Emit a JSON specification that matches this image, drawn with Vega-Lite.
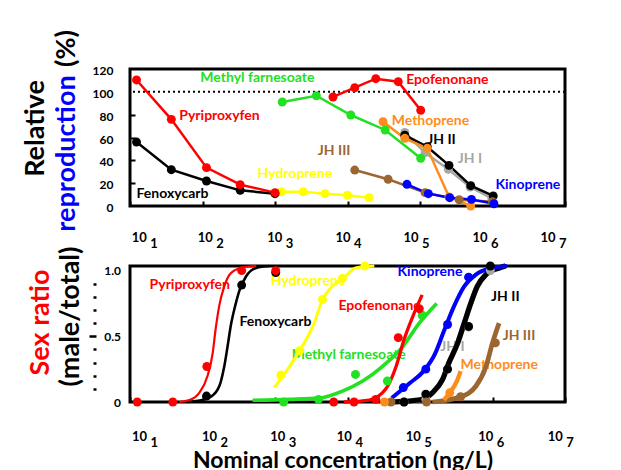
{
  "$schema": "https://vega.github.io/schema/vega-lite/v6.json",
  "autosize": {"type": "pad"},
  "padding": {"left": 20, "top": 28, "right": 5, "bottom": 5},
  "background": "white",
  "config": {"view": {"stroke": "black", "strokeWidth": 3}, "font": "Lato", "axis": {"grid": false}},
  "spacing": 60,
  "bounds": "flush",
  "datasets": {
    "ref": [{"ref": 100}],
    "top_pts": [
      {"series": "JH I", "logc": 4.79, "v": 64.5}, {"series": "JH I", "logc": 5.07, "v": 46.7}, {"series": "JH I", "logc": 5.39, "v": 32.1}, {"series": "JH I", "logc": 5.69, "v": 16.6}, {"series": "JH I", "logc": 5.99, "v": 6.7},
      {"series": "JH II", "logc": 4.79, "v": 62}, {"series": "JH II", "logc": 5.10, "v": 51.9}, {"series": "JH II", "logc": 5.40, "v": 35.6}, {"series": "JH II", "logc": 5.70, "v": 17.8}, {"series": "JH II", "logc": 6.01, "v": 8.8},
      {"series": "JH III", "logc": 4.10, "v": 31.5}, {"series": "JH III", "logc": 4.56, "v": 23.4}, {"series": "JH III", "logc": 5.07, "v": 11.7}, {"series": "JH III", "logc": 5.54, "v": 5.5}, {"series": "JH III", "logc": 6.0, "v": 3.8},
      {"series": "Methoprene", "logc": 4.49, "v": 73.8}, {"series": "Methoprene", "logc": 4.79, "v": 59.3}, {"series": "Methoprene", "logc": 5.10, "v": 50.5}, {"series": "Methoprene", "logc": 5.40, "v": 8}, {"series": "Methoprene", "logc": 5.70, "v": 0},
      {"series": "Kinoprene", "logc": 4.82, "v": 19}, {"series": "Kinoprene", "logc": 5.115, "v": 10.8}, {"series": "Kinoprene", "logc": 5.41, "v": 7.3}, {"series": "Kinoprene", "logc": 5.71, "v": 5.8}, {"series": "Kinoprene", "logc": 6.02, "v": 2},
      {"series": "Methyl farnesoate", "logc": 3.10, "v": 91.1}, {"series": "Methyl farnesoate", "logc": 3.57, "v": 96.6}, {"series": "Methyl farnesoate", "logc": 4.045, "v": 79.7}, {"series": "Methyl farnesoate", "logc": 4.52, "v": 66.6}, {"series": "Methyl farnesoate", "logc": 5.01, "v": 41.8},
      {"series": "Epofenonane", "logc": 3.80, "v": 95.5}, {"series": "Epofenonane", "logc": 4.10, "v": 103.6}, {"series": "Epofenonane", "logc": 4.39, "v": 111.5}, {"series": "Epofenonane", "logc": 4.70, "v": 108.9}, {"series": "Epofenonane", "logc": 5.01, "v": 83.8},
      {"series": "Hydroprene", "logc": 3.09, "v": 12.5}, {"series": "Hydroprene", "logc": 3.39, "v": 12.5}, {"series": "Hydroprene", "logc": 3.69, "v": 10.8}, {"series": "Hydroprene", "logc": 4.0, "v": 9.4}, {"series": "Hydroprene", "logc": 4.30, "v": 7.3},
      {"series": "Fenoxycarb", "logc": 1.09, "v": 56}, {"series": "Fenoxycarb", "logc": 1.57, "v": 31.8}, {"series": "Fenoxycarb", "logc": 2.055, "v": 21.9}, {"series": "Fenoxycarb", "logc": 2.52, "v": 13.7}, {"series": "Fenoxycarb", "logc": 3.0, "v": 10.8},
      {"series": "Pyriproxyfen", "logc": 1.09, "v": 110.4}, {"series": "Pyriproxyfen", "logc": 1.57, "v": 75.9}, {"series": "Pyriproxyfen", "logc": 2.055, "v": 33.6}, {"series": "Pyriproxyfen", "logc": 2.52, "v": 18.7}, {"series": "Pyriproxyfen", "logc": 3.0, "v": 11.7}
    ],
    "top_lab": [
      {"series": "Methyl farnesoate", "label": "Methyl farnesoate", "logc": 1.97, "v": 112},
      {"series": "Pyriproxyfen", "label": "Pyriproxyfen", "logc": 1.68, "v": 78.8},
      {"series": "Fenoxycarb", "label": "Fenoxycarb", "logc": 1.09, "v": 10.5},
      {"series": "Hydroprene", "label": "Hydroprene", "logc": 2.76, "v": 28},
      {"series": "JH III", "label": "JH III", "logc": 3.59, "v": 48.2},
      {"series": "Epofenonane", "label": "Epofenonane", "logc": 4.81, "v": 110.4},
      {"series": "Methoprene", "label": "Methoprene", "logc": 4.61, "v": 74.5},
      {"series": "JH II", "label": "JH II", "logc": 5.10, "v": 57.8},
      {"series": "JH I", "label": "JH I", "logc": 5.52, "v": 41.2},
      {"series": "Kinoprene", "label": "Kinoprene", "logc": 6.04, "v": 18.4}
    ],
    "bot_pts": [
      {"series": "JH I", "logc": 4.78, "v": 0}, {"series": "JH I", "logc": 5.08, "v": 0.02}, {"series": "JH I", "logc": 5.38, "v": 0.25}, {"series": "JH I", "logc": 5.67, "v": 0.57}, {"series": "JH I", "logc": 5.97, "v": 1.0},
      {"series": "JH II", "logc": 4.78, "v": 0}, {"series": "JH II", "logc": 5.08, "v": 0.06}, {"series": "JH II", "logc": 5.38, "v": 0.25}, {"series": "JH II", "logc": 5.67, "v": 0.575}, {"series": "JH II", "logc": 5.97, "v": 1.035},
      {"series": "JH III", "logc": 4.60, "v": 0}, {"series": "JH III", "logc": 5.09, "v": 0}, {"series": "JH III", "logc": 5.56, "v": 0.04}, {"series": "JH III", "logc": 6.04, "v": 0.45},
      {"series": "Methoprene", "logc": 4.51, "v": 0}, {"series": "Methoprene", "logc": 5.41, "v": 0.07},
      {"series": "Kinoprene", "logc": 4.77, "v": 0.11}, {"series": "Kinoprene", "logc": 5.08, "v": 0.25}, {"series": "Kinoprene", "logc": 5.38, "v": 0.59}, {"series": "Kinoprene", "logc": 5.67, "v": 0.95},
      {"series": "Methyl farnesoate", "logc": 3.12, "v": 0}, {"series": "Methyl farnesoate", "logc": 3.60, "v": 0.02}, {"series": "Methyl farnesoate", "logc": 4.11, "v": 0.21}, {"series": "Methyl farnesoate", "logc": 4.55, "v": 0.16}, {"series": "Methyl farnesoate", "logc": 5.03, "v": 0.66},
      {"series": "Epofenonane", "logc": 3.81, "v": 0}, {"series": "Epofenonane", "logc": 4.09, "v": 0}, {"series": "Epofenonane", "logc": 4.39, "v": 0.02}, {"series": "Epofenonane", "logc": 4.70, "v": 0.49}, {"series": "Epofenonane", "logc": 4.99, "v": 0.71},
      {"series": "Hydroprene", "logc": 3.08, "v": 0.205}, {"series": "Hydroprene", "logc": 3.34, "v": 0.39}, {"series": "Hydroprene", "logc": 3.655, "v": 0.78}, {"series": "Hydroprene", "logc": 3.93, "v": 0.94}, {"series": "Hydroprene", "logc": 4.24, "v": 1.035},
      {"series": "Fenoxycarb", "logc": 2.055, "v": 0.045}, {"series": "Fenoxycarb", "logc": 2.54, "v": 0.89}, {"series": "Fenoxycarb", "logc": 3.01, "v": 0.985},
      {"series": "Pyriproxyfen", "logc": 1.10, "v": 0}, {"series": "Pyriproxyfen", "logc": 1.59, "v": 0}, {"series": "Pyriproxyfen", "logc": 2.06, "v": 0.27}, {"series": "Pyriproxyfen", "logc": 2.54, "v": 1.0}, {"series": "Pyriproxyfen", "logc": 3.01, "v": 1.0}
    ],
    "bot_curve": [
      {"series": "JH I", "logc": 4.62, "v": 0}, {"series": "JH I", "logc": 4.99, "v": 0.015}, {"series": "JH I", "logc": 5.17, "v": 0.07}, {"series": "JH I", "logc": 5.31, "v": 0.17}, {"series": "JH I", "logc": 5.40, "v": 0.30}, {"series": "JH I", "logc": 5.52, "v": 0.45}, {"series": "JH I", "logc": 5.61, "v": 0.60}, {"series": "JH I", "logc": 5.70, "v": 0.75}, {"series": "JH I", "logc": 5.79, "v": 0.88}, {"series": "JH I", "logc": 5.91, "v": 0.97}, {"series": "JH I", "logc": 6.09, "v": 1.02}, {"series": "JH I", "logc": 6.18, "v": 1.035},
      {"series": "JH II", "logc": 4.62, "v": 0}, {"series": "JH II", "logc": 4.99, "v": 0.015}, {"series": "JH II", "logc": 5.17, "v": 0.07}, {"series": "JH II", "logc": 5.31, "v": 0.17}, {"series": "JH II", "logc": 5.40, "v": 0.30}, {"series": "JH II", "logc": 5.52, "v": 0.45}, {"series": "JH II", "logc": 5.61, "v": 0.60}, {"series": "JH II", "logc": 5.70, "v": 0.75}, {"series": "JH II", "logc": 5.79, "v": 0.88}, {"series": "JH II", "logc": 5.91, "v": 0.97}, {"series": "JH II", "logc": 6.09, "v": 1.02}, {"series": "JH II", "logc": 6.18, "v": 1.035},
      {"series": "JH III", "logc": 5.17, "v": 0}, {"series": "JH III", "logc": 5.56, "v": 0.04}, {"series": "JH III", "logc": 5.77, "v": 0.12}, {"series": "JH III", "logc": 5.91, "v": 0.27}, {"series": "JH III", "logc": 6.0, "v": 0.45}, {"series": "JH III", "logc": 6.09, "v": 0.60},
      {"series": "Methoprene", "logc": 5.33, "v": 0.015}, {"series": "Methoprene", "logc": 5.41, "v": 0.07}, {"series": "Methoprene", "logc": 5.51, "v": 0.16}, {"series": "Methoprene", "logc": 5.56, "v": 0.235},
      {"series": "Kinoprene", "logc": 4.61, "v": 0.03}, {"series": "Kinoprene", "logc": 4.865, "v": 0.146}, {"series": "Kinoprene", "logc": 5.05, "v": 0.235}, {"series": "Kinoprene", "logc": 5.21, "v": 0.37}, {"series": "Kinoprene", "logc": 5.33, "v": 0.54}, {"series": "Kinoprene", "logc": 5.47, "v": 0.73}, {"series": "Kinoprene", "logc": 5.61, "v": 0.88}, {"series": "Kinoprene", "logc": 5.77, "v": 0.97}, {"series": "Kinoprene", "logc": 6.0, "v": 1.02}, {"series": "Kinoprene", "logc": 6.2, "v": 1.035},
      {"series": "Methyl farnesoate", "logc": 2.69, "v": 0.013}, {"series": "Methyl farnesoate", "logc": 3.2, "v": 0.02}, {"series": "Methyl farnesoate", "logc": 3.61, "v": 0.03}, {"series": "Methyl farnesoate", "logc": 3.93, "v": 0.083}, {"series": "Methyl farnesoate", "logc": 4.21, "v": 0.16}, {"series": "Methyl farnesoate", "logc": 4.48, "v": 0.27}, {"series": "Methyl farnesoate", "logc": 4.76, "v": 0.42}, {"series": "Methyl farnesoate", "logc": 4.99, "v": 0.60}, {"series": "Methyl farnesoate", "logc": 5.23, "v": 0.75},
      {"series": "Epofenonane", "logc": 3.95, "v": 0}, {"series": "Epofenonane", "logc": 4.30, "v": 0.015}, {"series": "Epofenonane", "logc": 4.53, "v": 0.10}, {"series": "Epofenonane", "logc": 4.67, "v": 0.27}, {"series": "Epofenonane", "logc": 4.78, "v": 0.475}, {"series": "Epofenonane", "logc": 4.90, "v": 0.65}, {"series": "Epofenonane", "logc": 5.03, "v": 0.815},
      {"series": "Hydroprene", "logc": 2.99, "v": 0.11}, {"series": "Hydroprene", "logc": 3.20, "v": 0.27}, {"series": "Hydroprene", "logc": 3.34, "v": 0.39}, {"series": "Hydroprene", "logc": 3.54, "v": 0.60}, {"series": "Hydroprene", "logc": 3.655, "v": 0.78}, {"series": "Hydroprene", "logc": 3.79, "v": 0.88}, {"series": "Hydroprene", "logc": 3.97, "v": 0.955}, {"series": "Hydroprene", "logc": 4.11, "v": 1.02}, {"series": "Hydroprene", "logc": 4.37, "v": 1.035},
      {"series": "Fenoxycarb", "logc": 1.79, "v": 0}, {"series": "Fenoxycarb", "logc": 2.0, "v": 0.015}, {"series": "Fenoxycarb", "logc": 2.16, "v": 0.06}, {"series": "Fenoxycarb", "logc": 2.25, "v": 0.15}, {"series": "Fenoxycarb", "logc": 2.30, "v": 0.27}, {"series": "Fenoxycarb", "logc": 2.345, "v": 0.42}, {"series": "Fenoxycarb", "logc": 2.39, "v": 0.58}, {"series": "Fenoxycarb", "logc": 2.45, "v": 0.73}, {"series": "Fenoxycarb", "logc": 2.51, "v": 0.85}, {"series": "Fenoxycarb", "logc": 2.60, "v": 0.955}, {"series": "Fenoxycarb", "logc": 2.74, "v": 1.02}, {"series": "Fenoxycarb", "logc": 2.92, "v": 1.035},
      {"series": "Pyriproxyfen", "logc": 1.68, "v": 0}, {"series": "Pyriproxyfen", "logc": 1.82, "v": 0.015}, {"series": "Pyriproxyfen", "logc": 1.955, "v": 0.07}, {"series": "Pyriproxyfen", "logc": 2.07, "v": 0.2}, {"series": "Pyriproxyfen", "logc": 2.14, "v": 0.37}, {"series": "Pyriproxyfen", "logc": 2.18, "v": 0.55}, {"series": "Pyriproxyfen", "logc": 2.23, "v": 0.73}, {"series": "Pyriproxyfen", "logc": 2.30, "v": 0.88}, {"series": "Pyriproxyfen", "logc": 2.39, "v": 0.98}, {"series": "Pyriproxyfen", "logc": 2.53, "v": 1.02}, {"series": "Pyriproxyfen", "logc": 2.74, "v": 1.035}
    ],
    "bot_lab": [
      {"series": "Pyriproxyfen", "label": "Pyriproxyfen", "logc": 1.27, "v": 0.89},
      {"series": "Fenoxycarb", "label": "Fenoxycarb", "logc": 2.51, "v": 0.61},
      {"series": "Hydroprene", "label": "Hydroprene", "logc": 2.94, "v": 0.92},
      {"series": "Methyl farnesoate", "label": "Methyl farnesoate", "logc": 3.23, "v": 0.354},
      {"series": "Epofenonane", "label": "Epofenonane", "logc": 3.875, "v": 0.727},
      {"series": "Kinoprene", "label": "Kinoprene", "logc": 4.69, "v": 0.99},
      {"series": "JH II", "label": "JH II", "logc": 5.98, "v": 0.80},
      {"series": "JH I", "label": "JH I", "logc": 5.28, "v": 0.42},
      {"series": "Methoprene", "label": "Methoprene", "logc": 5.56, "v": 0.28},
      {"series": "JH III", "label": "JH III", "logc": 6.14, "v": 0.505}
    ]
  },
  "vconcat": [
    {
      "width": 435,
      "height": 137,
      "resolve": {"axis": {"x": "independent", "y": "independent"}},
      "layer": [
        {
          "data": {"name": "top_lab"},
          "mark": {"type": "text", "font": "Lato", "fontWeight": "bold", "fontSize": 14, "align": "left", "baseline": "middle"},
          "encoding": {
            "x": {"field": "logc", "type": "quantitative", "scale": {"domain": [1, 7], "nice": false, "zero": false},
              "axis": {"orient": "bottom", "values": [1.12, 2.03, 2.99, 3.93, 4.87, 5.82, 6.76], "labelExpr": "'' + round(datum.value)", "labelAlign": "left", "labelBaseline": "top", "labelOffset": 11, "labelPadding": 31, "labelFont": "Lato", "labelFontSize": 13, "labelFontWeight": "bold", "labelColor": "black", "labelFlush": false, "labelOverlap": false, "labelBound": false, "ticks": false, "domain": false, "title": null, "grid": false}},
            "y": {"field": "v", "type": "quantitative", "scale": {"domain": [0, 120], "nice": false},
              "axis": {"orient": "left", "title": "(%)", "titleColor": "black", "titleFont": "Lato", "titleFontSize": 27, "titleFontWeight": "bold", "titleAngle": -90, "titleAlign": "center", "titleBaseline": "middle", "titleX": -64, "titleY": -21, "labels": false, "ticks": false, "domain": false, "grid": false}},
            "color": {"field": "series", "type": "nominal", "legend": null,
              "scale": {"domain": ["JH I", "JH II", "JH III", "Methoprene", "Kinoprene", "Methyl farnesoate", "Epofenonane", "Hydroprene", "Fenoxycarb", "Pyriproxyfen"],
                "range": ["#a6a6a6", "#000000", "#9c6631", "#ff8c1a", "#0000ff", "#22e022", "#ff0000", "#ffff00", "#000000", "#ff0000"]}},
            "text": {"field": "label", "type": "nominal"}
          }
        },
        {
          "data": {"name": "ref"},
          "mark": {"type": "rule", "strokeDash": [2, 3], "strokeWidth": 2, "color": "black"},
          "encoding": {
            "y": {"field": "ref", "type": "quantitative", "scale": {"domain": [0, 120], "nice": false},
              "axis": {"orient": "left", "title": "reproduction", "titleColor": "#0000ff", "titleFont": "Lato", "titleFontSize": 27, "titleFontWeight": "bold", "titleAngle": -90, "titleAlign": "center", "titleBaseline": "middle", "titleX": -64, "titleY": 84, "labels": false, "ticks": true, "tickSize": -5, "tickWidth": 2, "tickColor": "black", "values": [20, 40, 60, 80], "domain": false, "grid": false}}
          }
        },
        {
          "data": {"name": "top_pts"},
          "mark": {"type": "line", "strokeWidth": 2.5},
          "encoding": {
            "x": {"field": "logc", "type": "quantitative", "scale": {"domain": [1, 7], "nice": false, "zero": false},
              "axis": {"orient": "bottom", "values": [1, 2, 3, 4, 5, 6, 7], "labels": false, "ticks": true, "tickSize": -5, "tickWidth": 2, "tickColor": "black", "domain": false, "title": null, "grid": false}},
            "y": {"field": "v", "type": "quantitative", "scale": {"domain": [0, 120], "nice": false},
              "axis": {"orient": "left", "values": [0, 20, 40, 60, 80, 100, 120], "title": "Relative", "titleColor": "black", "titleFont": "Lato", "titleFontSize": 27, "titleFontWeight": "bold", "titleAngle": -90, "titleAlign": "center", "titleBaseline": "middle", "titleX": -94.5, "titleY": 59, "labelFont": "Lato", "labelFontSize": 12, "labelFontWeight": "bold", "labelColor": "black", "labelPadding": 17, "labelOffset": 1.5, "ticks": false, "domain": false, "grid": false}},
            "color": {"field": "series", "type": "nominal", "legend": null,
              "scale": {"domain": ["JH I", "JH II", "JH III", "Methoprene", "Kinoprene", "Methyl farnesoate", "Epofenonane", "Hydroprene", "Fenoxycarb", "Pyriproxyfen"],
                "range": ["#a6a6a6", "#000000", "#9c6631", "#ff8c1a", "#0000ff", "#22e022", "#ff0000", "#ffff00", "#000000", "#ff0000"]}}
          }
        },
        {
          "data": {"name": "top_pts"},
          "mark": {"type": "point", "filled": true, "opacity": 1},
          "encoding": {
            "x": {"field": "logc", "type": "quantitative", "scale": {"domain": [1, 7], "nice": false, "zero": false},
              "axis": {"orient": "bottom", "values": [1.12, 2.03, 2.99, 3.93, 4.87, 5.82, 6.76], "labelExpr": "'10'", "labelAlign": "center", "labelBaseline": "top", "labelPadding": 25, "labelFont": "Lato", "labelFontSize": 13, "labelFontWeight": "bold", "labelColor": "black", "labelFlush": false, "labelOverlap": false, "labelBound": false, "ticks": false, "domain": false, "title": null, "grid": false}},
            "y": {"field": "v", "type": "quantitative", "scale": {"domain": [0, 120], "nice": false}, "axis": null},
            "color": {"field": "series", "type": "nominal", "legend": null,
              "scale": {"domain": ["JH I", "JH II", "JH III", "Methoprene", "Kinoprene", "Methyl farnesoate", "Epofenonane", "Hydroprene", "Fenoxycarb", "Pyriproxyfen"],
                "range": ["#a6a6a6", "#000000", "#9c6631", "#ff8c1a", "#0000ff", "#22e022", "#ff0000", "#ffff00", "#000000", "#ff0000"]}},
            "size": {"field": "series", "type": "nominal", "legend": null,
              "scale": {"domain": ["JH I", "JH II", "JH III", "Methoprene", "Kinoprene", "Methyl farnesoate", "Epofenonane", "Hydroprene", "Fenoxycarb", "Pyriproxyfen"],
                "range": [80, 80, 55, 65, 95, 60, 95, 80, 55, 95]}}
          }
        }
      ]
    },
    {
      "width": 435,
      "height": 136,
      "resolve": {"axis": {"x": "independent", "y": "independent"}},
      "layer": [
        {
          "data": {"name": "bot_lab"},
          "mark": {"type": "text", "font": "Lato", "fontWeight": "bold", "fontSize": 14, "align": "left", "baseline": "middle"},
          "encoding": {
            "x": {"field": "logc", "type": "quantitative", "scale": {"domain": [1, 7], "nice": false, "zero": false},
              "axis": {"orient": "bottom", "values": [1.124, 2.09, 3.03, 3.95, 4.90, 5.90, 6.86], "labelExpr": "'' + round(datum.value)", "labelAlign": "left", "labelBaseline": "top", "labelOffset": 11, "labelPadding": 34, "labelFont": "Lato", "labelFontSize": 13, "labelFontWeight": "bold", "labelColor": "black", "labelFlush": false, "labelOverlap": false, "labelBound": false, "ticks": false, "domain": false, "title": null, "grid": false}},
            "y": {"field": "v", "type": "quantitative", "scale": {"domain": [0, 1.035], "nice": false},
              "axis": {"orient": "left", "offset": 34, "values": [0.1, 0.2, 0.3, 0.4, 0.5, 0.6, 0.7, 0.8, 0.9], "labels": false, "ticks": true, "tickSize": {"condition": {"test": "datum.value === 0.5", "value": 7}, "value": 3}, "tickWidth": 2.5, "tickColor": "black", "domain": false, "title": null, "grid": false}},
            "color": {"field": "series", "type": "nominal", "legend": null,
              "scale": {"domain": ["JH I", "JH II", "JH III", "Methoprene", "Kinoprene", "Methyl farnesoate", "Epofenonane", "Hydroprene", "Fenoxycarb", "Pyriproxyfen"],
                "range": ["#a6a6a6", "#000000", "#9c6631", "#ff8c1a", "#0000ff", "#22e022", "#ff0000", "#ffff00", "#000000", "#ff0000"]}},
            "text": {"field": "label", "type": "nominal"}
          }
        },
        {
          "data": {"name": "bot_curve"},
          "mark": {"type": "line", "interpolate": "monotone"},
          "encoding": {
            "x": {"field": "logc", "type": "quantitative", "scale": {"domain": [1, 7], "nice": false, "zero": false},
              "axis": {"orient": "bottom", "values": [1, 2, 3, 4, 5, 6, 7], "labels": false, "ticks": true, "tickSize": -5, "tickWidth": 2, "tickColor": "black", "domain": false, "title": null, "grid": false}},
            "y": {"field": "v", "type": "quantitative", "scale": {"domain": [0, 1.035], "nice": false},
              "axis": {"orient": "left", "values": [0, 0.5, 1], "labelExpr": "datum.value === 0 ? '0' : format(datum.value, '.1f')", "title": "Sex ratio", "titleColor": "#ff0000", "titleFont": "Lato", "titleFontSize": 27, "titleFontWeight": "bold", "titleAngle": -90, "titleAlign": "center", "titleBaseline": "middle", "titleX": -89.5, "titleY": 56, "labelFont": "Lato", "labelFontSize": 12, "labelFontWeight": "bold", "labelColor": "black", "labelPadding": 9.5, "ticks": false, "domain": false, "grid": false}},
            "color": {"field": "series", "type": "nominal", "legend": null,
              "scale": {"domain": ["JH I", "JH II", "JH III", "Methoprene", "Kinoprene", "Methyl farnesoate", "Epofenonane", "Hydroprene", "Fenoxycarb", "Pyriproxyfen"],
                "range": ["#a6a6a6", "#000000", "#9c6631", "#ff8c1a", "#0000ff", "#22e022", "#ff0000", "#ffff00", "#000000", "#ff0000"]}},
            "strokeWidth": {"field": "series", "type": "nominal", "legend": null,
              "scale": {"domain": ["JH I", "JH II", "JH III", "Methoprene", "Kinoprene", "Methyl farnesoate", "Epofenonane", "Hydroprene", "Fenoxycarb", "Pyriproxyfen"],
                "range": [5.5, 2.2, 2.5, 2.5, 2.5, 2.5, 2.5, 2.5, 2.5, 2.5]}}
          }
        },
        {
          "data": {"name": "bot_pts"},
          "mark": {"type": "point", "filled": true, "opacity": 1},
          "encoding": {
            "x": {"field": "logc", "type": "quantitative", "scale": {"domain": [1, 7], "nice": false, "zero": false},
              "axis": {"orient": "bottom", "values": [1.124, 2.09, 3.03, 3.95, 4.90, 5.90, 6.86], "labelExpr": "'10'", "labelAlign": "center", "labelBaseline": "top", "labelPadding": 28, "labelFont": "Lato", "labelFontSize": 13, "labelFontWeight": "bold", "labelColor": "black", "labelFlush": false, "labelOverlap": false, "labelBound": false, "ticks": false, "domain": false, "grid": false,
                "title": "Nominal concentration (ng/L)", "titleColor": "black", "titleFont": "Lato", "titleFontSize": 23, "titleFontWeight": "bold", "titleAngle": 0, "titleAlign": "center", "titleBaseline": "middle", "titleX": 212.5, "titleY": 58}},
            "y": {"field": "v", "type": "quantitative", "scale": {"domain": [0, 1.035], "nice": false},
              "axis": {"orient": "left", "title": "(male/total)", "titleColor": "black", "titleFont": "Lato", "titleFontSize": 27, "titleFontWeight": "bold", "titleAngle": -90, "titleAlign": "center", "titleBaseline": "middle", "titleX": -59.5, "titleY": 50, "labels": false, "ticks": false, "domain": false, "grid": false}},
            "color": {"field": "series", "type": "nominal", "legend": null,
              "scale": {"domain": ["JH I", "JH II", "JH III", "Methoprene", "Kinoprene", "Methyl farnesoate", "Epofenonane", "Hydroprene", "Fenoxycarb", "Pyriproxyfen"],
                "range": ["#a6a6a6", "#000000", "#9c6631", "#ff8c1a", "#0000ff", "#22e022", "#ff0000", "#ffff00", "#000000", "#ff0000"]}},
            "size": {"field": "series", "type": "nominal", "legend": null,
              "scale": {"domain": ["JH I", "JH II", "JH III", "Methoprene", "Kinoprene", "Methyl farnesoate", "Epofenonane", "Hydroprene", "Fenoxycarb", "Pyriproxyfen"],
                "range": [65, 65, 60, 60, 70, 60, 65, 65, 40, 65]}}
          }
        }
      ]
    }
  ]
}
